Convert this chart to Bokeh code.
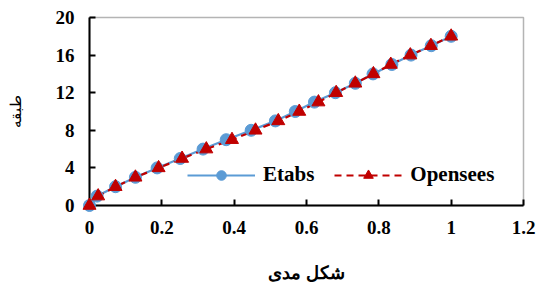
from bokeh.plotting import figure
from bokeh.models import Range1d, FixedTicker, Legend, LegendItem
from bokeh.embed import file_html
from bokeh.resources import INLINE

floors = list(range(19))
etabs = [0.0, 0.021, 0.072, 0.127, 0.187, 0.251, 0.314, 0.378, 0.447, 0.514,
         0.569, 0.622, 0.680, 0.735, 0.784, 0.836, 0.889, 0.945, 1.0]
opensees = [0.0, 0.024, 0.072, 0.127, 0.191, 0.256, 0.323, 0.394, 0.459, 0.522,
            0.580, 0.633, 0.682, 0.735, 0.785, 0.833, 0.887, 0.944, 1.0]
x_ticks = [0, 0.2, 0.4, 0.6, 0.8, 1.0, 1.2]
y_ticks = [0, 4, 8, 12, 16, 20]

p = figure(width=536, height=285, output_backend="svg", toolbar_location=None,
           x_range=Range1d(0, 1.2), y_range=Range1d(0, 20),
           min_border_left=89, min_border_right=13, min_border_top=17, min_border_bottom=79)
p.xgrid.visible = False
p.ygrid.visible = False
p.outline_line_color = "#b4b4b4"
p.outline_line_width = 1.5

l1 = p.line(etabs, floors, line_color="#5b9bd5", line_width=2.2)
c1 = p.scatter(etabs, floors, marker="circle", size=12, fill_color="#5b9bd5",
               line_color="#5b9bd5", level="overlay")
l2 = p.line(opensees, floors, line_color="#c00000", line_width=2.2, line_dash="7 5")
c2 = p.scatter(opensees, floors, marker="triangle", size=13, fill_color="#c00000",
               line_color="#c00000", level="overlay")

font = "Liberation Serif"
for ax, ticks in ((p.xaxis[0], x_ticks), (p.yaxis[0], y_ticks)):
    ax.ticker = FixedTicker(ticks=ticks)
    ax.axis_line_width = 2
    ax.axis_line_color = "black"
    ax.major_tick_line_width = 2
    ax.major_tick_in = 6
    ax.major_tick_out = 0
    ax.minor_tick_line_color = None
    ax.major_label_text_font = font
    ax.major_label_text_font_style = "bold"
    ax.major_label_text_font_size = "19px"
    ax.major_label_text_color = "black"
    ax.axis_label_text_color = "black"

p.xaxis[0].major_label_overrides = {1.0: "1", 0: "0"}
p.xaxis[0].major_label_standoff = 15
p.yaxis[0].major_label_standoff = 15

p.xaxis[0].axis_label = "شكل مدى"
p.xaxis[0].axis_label_text_font = font
p.xaxis[0].axis_label_text_font_style = "bold"
p.xaxis[0].axis_label_text_font_size = "18px"
p.xaxis[0].axis_label_standoff = 26

p.yaxis[0].axis_label = "طبقه"
p.yaxis[0].axis_label_text_font = font
p.yaxis[0].axis_label_text_font_style = "normal"
p.yaxis[0].axis_label_text_font_size = "15px"
p.yaxis[0].axis_label_standoff = 29

legend = Legend(items=[LegendItem(label="Etabs", renderers=[l1, c1]),
                       LegendItem(label="Opensees", renderers=[l2, c2])],
                orientation="horizontal", location=(98, 18))
legend.glyph_width = 68
legend.glyph_height = 24
legend.label_height = 24
legend.label_standoff = 8
legend.spacing = 20
legend.padding = 0
legend.margin = 0
legend.border_line_color = None
legend.background_fill_alpha = 0
legend.label_text_font = font
legend.label_text_font_style = "bold"
legend.label_text_font_size = "21px"
legend.label_text_color = "black"
p.add_layout(legend)

open("out.html", "w").write(file_html(p, INLINE))
